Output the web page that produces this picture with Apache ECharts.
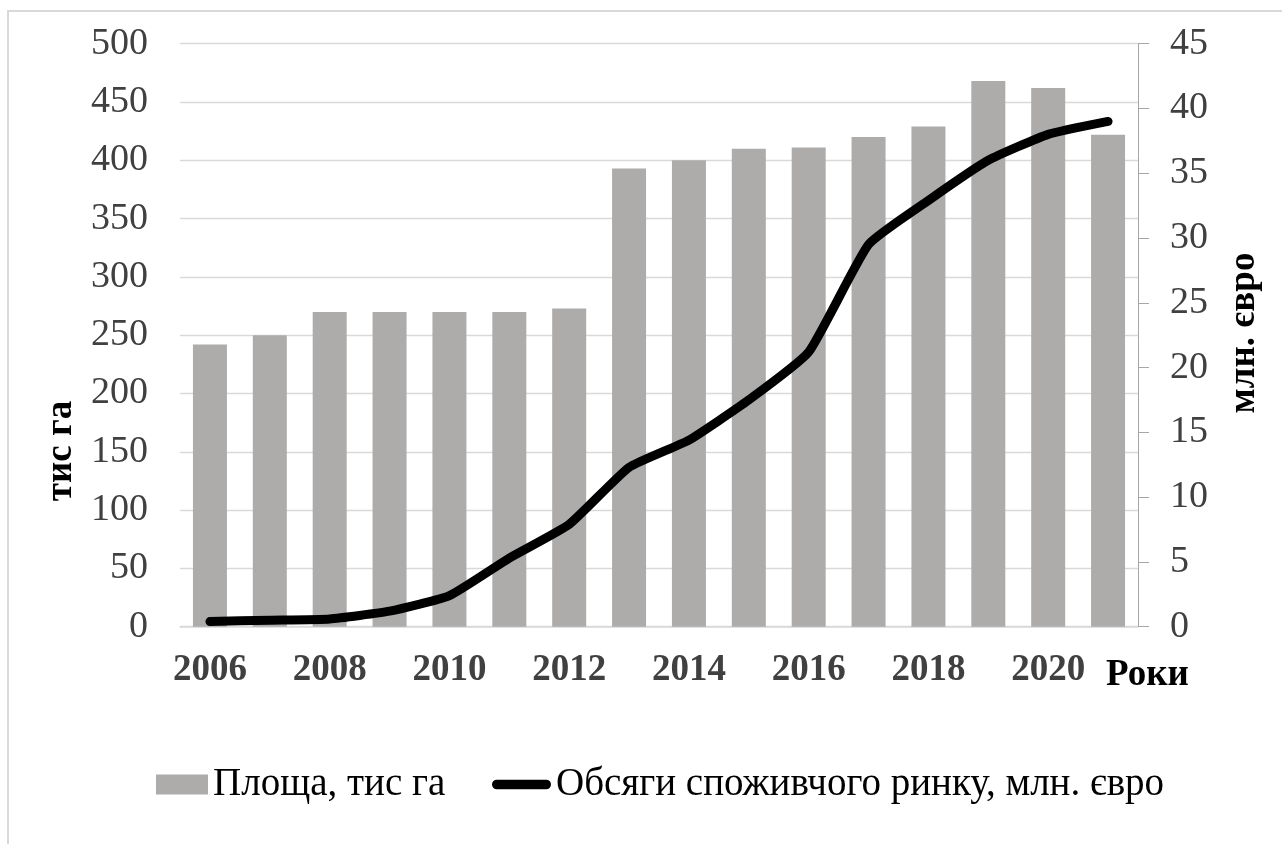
<!DOCTYPE html>
<html>
<head>
<meta charset="utf-8">
<script src="https://cdn.jsdelivr.net/npm/echarts@6/dist/echarts.min.js"></script>
<style>
html,body{margin:0;padding:0;background:#fff;}
#chart{width:1282px;height:844px;}
</style>
</head>
<body>
<div id="chart"></div>
<script>
const years = ['2006','2007','2008','2009','2010','2011','2012','2013','2014','2015','2016','2017','2018','2019','2020','2021'];
const areaValues = [242, 250, 270, 270, 270, 270, 273, 393, 400, 410, 411, 420, 429, 468, 462, 422];
const marketValues = [0.4, 0.5, 0.6, 1.2, 2.4, 5.3, 7.9, 12.3, 14.4, 17.5, 21.2, 29.5, 32.9, 36.0, 38.0, 39.0];
const areaName = 'Площа, тис га';
const marketName = 'Обсяги споживчого ринку, млн. євро';
const leftTitle = 'тис га';
const rightTitle = 'млн. євро';
const xTitle = 'Роки';

const serif = '"Liberation Serif", "Times New Roman", serif';
const chart = echarts.init(document.getElementById('chart'));
chart.setOption({
  animation: false,
  backgroundColor: '#fff',
  grid: {left: 180, right: 144, top: 43.7, bottom: 217.3, containLabel: false},
  legend: [
    {
      data: [areaName], left: 156, top: 765, padding: 0,
      itemWidth: 52, itemHeight: 20, icon: 'rect',
      textStyle: {fontFamily: serif, fontSize: 39, color: '#000'}
    },
    {
      data: [{name: marketName, icon: 'path://M5,0 L56,0 A5,5 0 0 1 56,10 L5,10 A5,5 0 0 1 5,0 Z'}],
      left: 492, top: 765, padding: 0,
      itemWidth: 59, itemHeight: 10,
      textStyle: {fontFamily: serif, fontSize: 39, color: '#000'}
    }
  ],
  xAxis: {
    type: 'category', data: years, boundaryGap: true,
    axisLine: {show: true, lineStyle: {color: '#d9d9d9', width: 1.5}},
    axisTick: {show: false},
    axisLabel: {interval: 1, margin: 25, fontFamily: serif, fontSize: 37, fontWeight: 'bold', color: '#404040'}
  },
  yAxis: [
    {
      type: 'value', min: 0, max: 500, interval: 50,
      axisLine: {show: false}, axisTick: {show: false},
      splitLine: {lineStyle: {color: '#d9d9d9', width: 1.3}},
      axisLabel: {margin: 32, fontFamily: serif, fontSize: 38, color: '#404040'}
    },
    {
      type: 'value', min: 0, max: 45, interval: 5, position: 'right',
      axisLine: {show: true, lineStyle: {color: '#a6a6a6', width: 1}},
      axisTick: {show: true, length: 11, lineStyle: {color: '#a6a6a6', width: 1}},
      splitLine: {show: false},
      axisLabel: {margin: 32, fontFamily: serif, fontSize: 38, color: '#404040'}
    }
  ],
  series: [
    {
      name: areaName, type: 'bar', yAxisIndex: 0, data: areaValues,
      barWidth: 34, itemStyle: {color: '#aeabab'}
    },
    {
      name: marketName, type: 'line', yAxisIndex: 1, data: marketValues,
      smooth: 0.15, showSymbol: false, symbol: 'none',
      itemStyle: {color: '#000'},
      lineStyle: {color: '#000', width: 9, cap: 'round', join: 'round'}
    }
  ],
  graphic: [
    {type: 'rect', shape: {x: 8, y: 11, width: 1300, height: 860}, style: {fill: 'none', stroke: '#d9d9d9', lineWidth: 2}, silent: true, z: -1},
    {type: 'text', x: 61, y: 451, rotation: Math.PI / 2, style: {text: leftTitle, fontFamily: serif, fontSize: 37, fontWeight: 'bold', fill: '#000', align: 'center', verticalAlign: 'middle'}},
    {type: 'text', x: 1244, y: 333, rotation: Math.PI / 2, style: {text: rightTitle, fontFamily: serif, fontSize: 37, fontWeight: 'bold', fill: '#000', align: 'center', verticalAlign: 'middle'}},
    {type: 'text', x: 1106, y: 675, style: {text: xTitle, fontFamily: serif, fontSize: 37, fontWeight: 'bold', fill: '#000', align: 'left', verticalAlign: 'middle'}}
  ]
});
</script>
</body>
</html>
